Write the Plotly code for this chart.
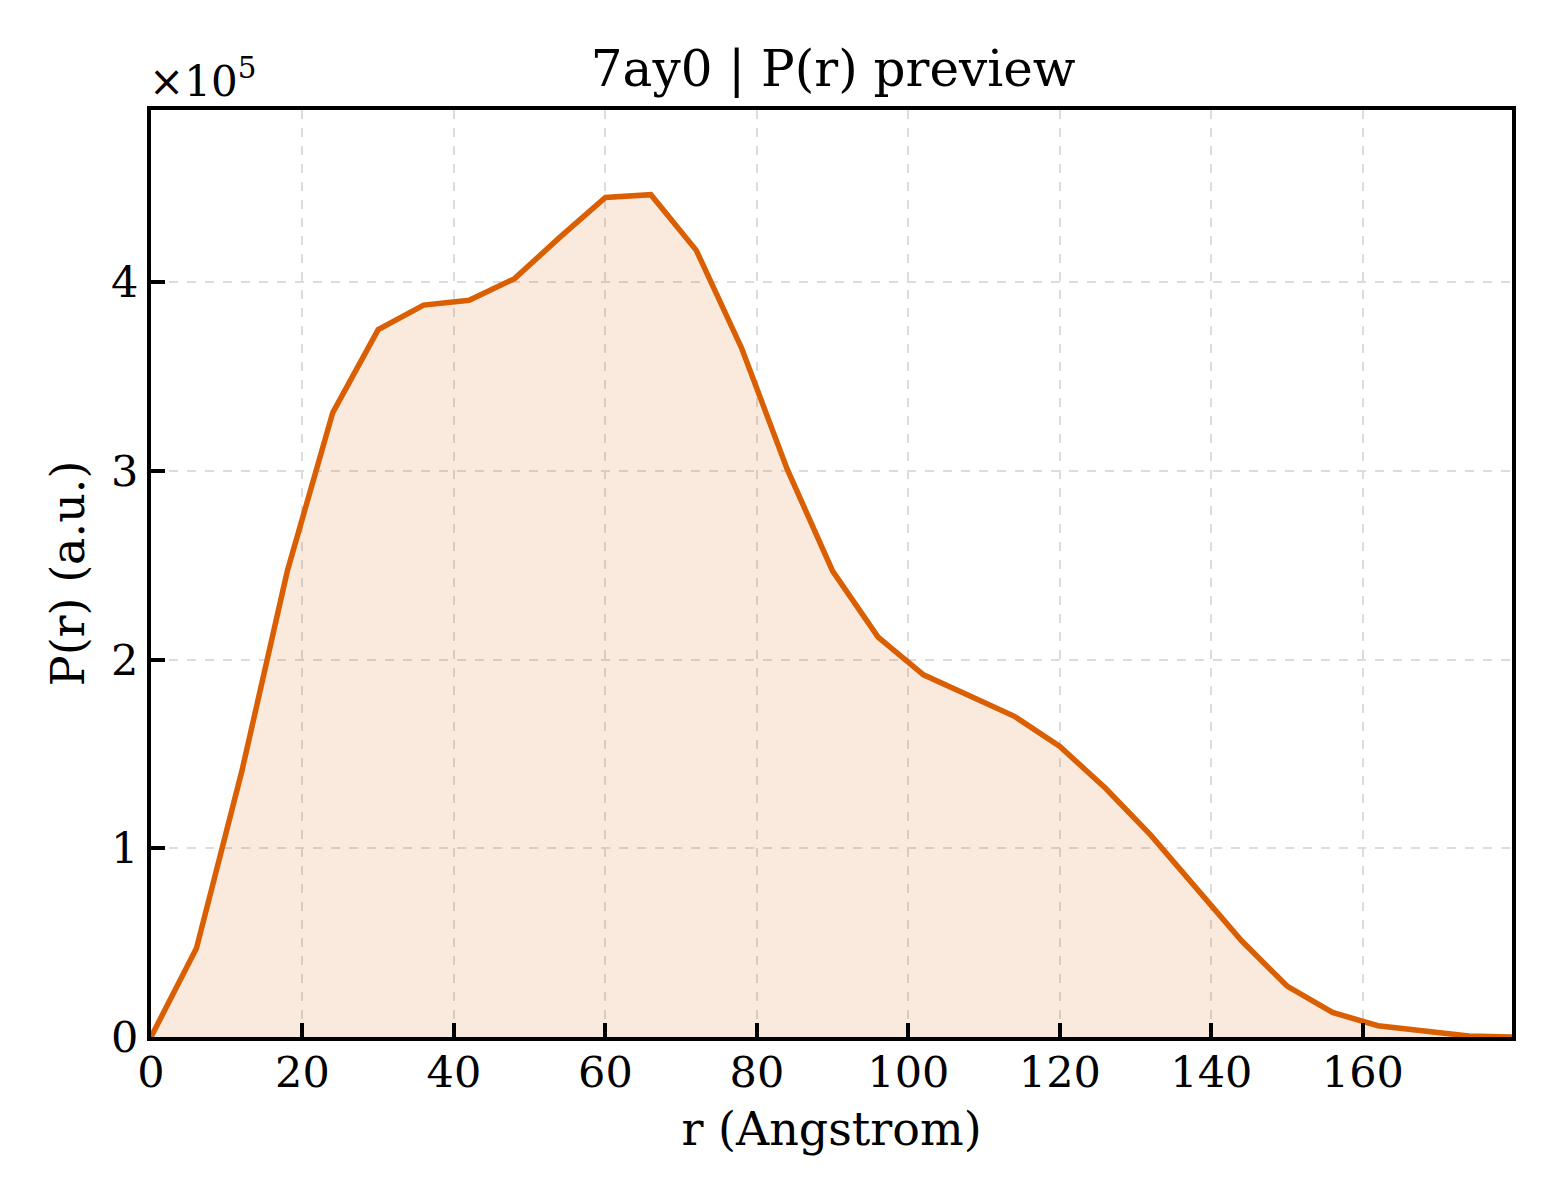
import plotly.graph_objects as go

r_vals = [0, 6, 12, 18, 24, 30, 36, 42, 48, 54, 60, 66, 72, 78, 84, 90,
          96, 102, 108, 114, 120, 126, 132, 138, 144, 150, 156, 162, 168, 174, 179.7]
pr_vals = [0, 47000, 141000, 247000, 331000, 375000, 388000, 390500, 402000, 424000,
           445000, 446500, 417000, 365000, 301000, 247000, 212000, 192000, 181000,
           170000, 154000, 132000, 107000, 79000, 51000, 27000, 13000, 6000, 3500, 500, 0]

y_tickvals = [0, 100000, 200000, 300000, 400000]
y_ticktext = ["0", "1", "2", "3", "4"]
x_tickvals = [0, 20, 40, 60, 80, 100, 120, 140, 160]

line_color = "#d95f02"
font_family = "DejaVu Serif"

fig = go.Figure()

fig.add_trace(go.Scatter(
    x=r_vals,
    y=pr_vals,
    mode="lines",
    line=dict(color=line_color, width=5.5),
    fill="tozeroy",
    fillcolor="rgba(217,95,2,0.13)",
    showlegend=False,
))

axis_common = dict(
    showline=True,
    linecolor="black",
    linewidth=4,
    mirror=True,
    ticks="inside",
    ticklen=14,
    tickwidth=3.5,
    tickcolor="black",
    showgrid=True,
    gridcolor="#dcdcdc",
    griddash="dash",
    gridwidth=1.5,
    zeroline=False,
    tickfont=dict(family=font_family, size=43, color="black"),
)

fig.update_xaxes(
    range=[0, 179.7],
    tickvals=x_tickvals,
    ticklabelstandoff=-6,
    title=dict(text="r (Angstrom)", font=dict(family=font_family, size=46, color="black"), standoff=18),
    **axis_common,
)
fig.update_yaxes(
    range=[0, 491400],
    tickvals=y_tickvals,
    ticktext=y_ticktext,
    title=dict(text="P(r) (a.u.)", font=dict(family=font_family, size=46, color="black"), standoff=13),
    **axis_common,
)

# matplotlib style offset label
fig.add_annotation(
    text="×10<sup>5</sup>",
    xref="paper", yref="paper",
    x=0.0, y=1.0,
    xanchor="left", yanchor="bottom",
    xshift=-4, yshift=2,
    showarrow=False,
    font=dict(family=font_family, size=42, color="black"),
)

fig.update_layout(
    width=1560,
    height=1200,
    paper_bgcolor="white",
    plot_bgcolor="white",
    margin=dict(l=143, r=56, t=102, b=171),
    title=dict(
        text="7ay0 | P(r) preview",
        x=0.529, xanchor="center",
        y=0.95, yanchor="middle",
        font=dict(family=font_family, size=50, color="black"),
    ),
)

fig.write_html("out.html")
